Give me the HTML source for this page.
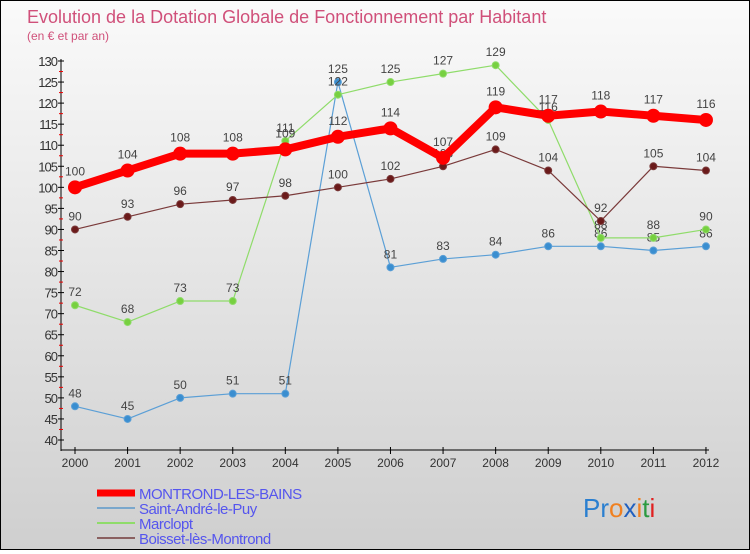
<!DOCTYPE html>
<html><head><meta charset="utf-8"><style>
body{margin:0;width:750px;height:550px;overflow:hidden;font-family:"Liberation Sans",sans-serif}
#wrap{position:relative;width:748px;height:548px;border:1px solid #000;background:linear-gradient(#fafafa,#cfcfcf)}
</style></head><body>
<div id="wrap">
<svg id="chart" width="748" height="548"></svg>
</div>
<script>
const years=[2000,2001,2002,2003,2004,2005,2006,2007,2008,2009,2010,2011,2012];
const montrond=[100,104,108,108,109,112,114,107,119,117,118,117,116];
const saintAndre=[48,45,50,51,51,125,81,83,84,86,86,85,86];
const marclopt=[72,68,73,73,111,122,125,127,129,116,88,88,90];
const boisset=[90,93,96,97,98,100,102,105,109,104,92,105,104];
const yTicks=[40,45,50,55,60,65,70,75,80,85,90,95,100,105,110,115,120,125,130];
const NS='http://www.w3.org/2000/svg';
const svg=document.getElementById('chart');
const X=i=>74+i*52.58;
const Y=v=>439-(v-40)*(379/90);
function el(t,a,p){const e=document.createElementNS(NS,t);for(const k in a)e.setAttribute(k,a[k]);(p||svg).appendChild(e);return e;}
function txt(s,a){const e=el('text',a);e.textContent=s;return e;}
let t=txt('Evolution de la Dotation Globale de Fonctionnement par Habitant',{x:26,y:22,'font-size':18,fill:'#d0507a'});

t=txt('(en € et par an)',{x:26,y:39,'font-size':12,fill:'#d0507a'});

// axes
let a=el('line',{x1:60,y1:58,x2:60,y2:450,stroke:'#000','stroke-width':1});

a=el('line',{x1:60,y1:449,x2:708,y2:449,stroke:'#000','stroke-width':1});

yTicks.forEach(v=>{
 el('line',{x1:57,x2:63,y1:Y(v),y2:Y(v),stroke:'#000'});
 if(v<130) el('line',{x1:58,x2:62,y1:Y(v+2.5),y2:Y(v+2.5),stroke:'#e00'});
 const l=txt(v,{x:56,y:Y(v)+5,'font-size':13,'text-anchor':'end',fill:'#333','letter-spacing':'-1'});
 
});
years.forEach((yr,i)=>{
 el('line',{x1:X(i),x2:X(i),y1:446,y2:453,stroke:'#000'});
 const l=txt(yr,{x:X(i),y:466,'font-size':12,'text-anchor':'middle',fill:'#333'});
 
});
function series(vals,color,dot,w,r,name){
 const g=el('g',{});
 
 const p=el('polyline',{points:vals.map((v,i)=>X(i)+','+Y(v)).join(' '),fill:'none',stroke:color,'stroke-width':w,'stroke-linejoin':'round'},g);
 
 vals.forEach((v,i)=>{
  const c=el('circle',{cx:X(i),cy:Y(v),r:r,fill:dot,stroke:color,'stroke-width':1},g);
  
  const l=txt(v,{x:X(i),y:Y(v)-9-(r>4?3:0),'font-size':12,'text-anchor':'middle',fill:'#444'});
  
 });
}
series(saintAndre,'#5b9fd6','#3a8ed0',1.2,3.5,'saint-andre');
series(marclopt,'#8fdc6a','#77d040',1.2,3.5,'marclopt');
series(boisset,'#7a3a3a','#6b1a1a',1.2,3.5,'boisset');
series(montrond,'#f00','#f00',8,6.5,'montrond');
// legend
const leg=[['MONTROND-LES-BAINS','#f00',7],['Saint-André-le-Puy','#7aa7cc',2],['Marclopt','#8fdc6a',2],['Boisset-lès-Montrond','#8a6060',2]];
leg.forEach((L,i)=>{
 const y=492+i*15;
 const g=el('g',{});
 el('line',{x1:96,x2:134,y1:y,y2:y,stroke:L[1],'stroke-width':L[2]},g);
 const tx=el('text',{x:138,y:y+6,'font-size':15,fill:'#5555ee','letter-spacing':'-0.5'},g);tx.textContent=L[0];
});
const lg=el('text',{x:582,y:516,'font-size':26,'font-weight':'normal'});

[['P','#2a7fd0'],['r','#2a7fd0'],['o','#f08020'],['x','#2060c0'],['i','#f08020'],['t','#2a9a40'],['i','#e02020']].forEach(c=>{const s=el('tspan',{fill:c[1]},lg);s.textContent=c[0];});
</script>
</body></html>
